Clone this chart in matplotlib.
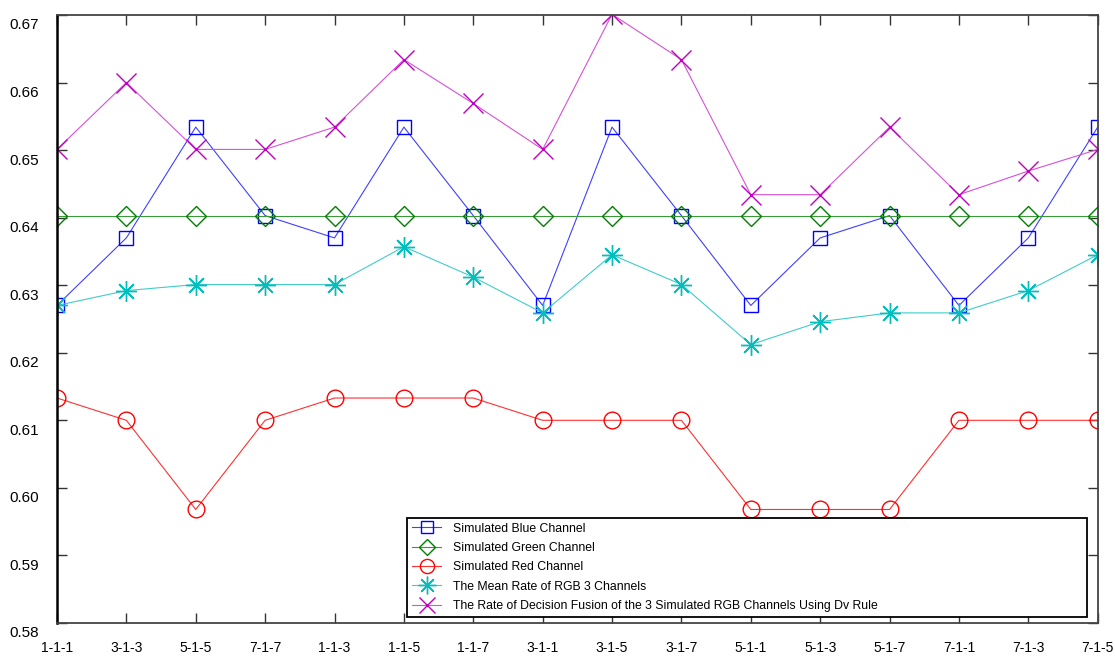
import numpy as np
import matplotlib
matplotlib.use("Agg")
import matplotlib.pyplot as plt
from matplotlib.transforms import ScaledTranslation

plt.rcParams['font.family'] = ['Liberation Sans', 'DejaVu Sans']

# window sizes (x-y-z) on the x axis
configs = ['1-1-1', '3-1-3', '5-1-5', '7-1-7', '1-1-3', '1-1-5', '1-1-7', '3-1-1',
           '3-1-5', '3-1-7', '5-1-1', '5-1-3', '5-1-7', '7-1-1', '7-1-3', '7-1-5']

blue = [0.6270, 0.6370, 0.6534, 0.6403, 0.6370, 0.6534, 0.6403, 0.6270,
        0.6534, 0.6403, 0.6270, 0.6370, 0.6403, 0.6270, 0.6370, 0.6534]
green = [0.6403] * 16
red = [0.6133, 0.6100, 0.5968, 0.6100, 0.6133, 0.6133, 0.6133, 0.6100,
       0.6100, 0.6100, 0.5968, 0.5968, 0.5968, 0.6100, 0.6100, 0.6100]
mean_rgb = [0.6270, 0.6292, 0.6301, 0.6301, 0.6301, 0.6357, 0.6312, 0.6259,
            0.6345, 0.6301, 0.6212, 0.6246, 0.6259, 0.6259, 0.6292, 0.6345]
fusion = [0.6501, 0.6600, 0.6501, 0.6501, 0.6534, 0.6634, 0.6569, 0.6501,
          0.6701, 0.6634, 0.6434, 0.6434, 0.6534, 0.6434, 0.6469, 0.6501]

labels = ['Simulated Blue Channel', 'Simulated Green Channel', 'Simulated Red Channel',
          'The Mean Rate of RGB 3 Channels',
          'The Rate of Decision Fusion of the 3 Simulated RGB Channels Using Dv Rule']

fig = plt.figure(figsize=(11.15, 6.57), dpi=100)
ax = fig.add_axes([0.0511, 0.0518, 0.9334, 0.9254])
x = np.arange(len(configs))

# thin light lines, darker marker edges
ax.plot(x, blue, color='#4040ff', mec='#0000ff', lw=0.8, marker='s', ms=10, mfc='none', mew=1.0, label=labels[0])
ax.plot(x, green, color='#3a9a3a', mec='#008000', lw=0.8, marker='D', ms=10, mfc='none', mew=1.0, label=labels[1])
ax.plot(x, red, color='#ff3030', mec='#ff0000', lw=0.8, marker='o', ms=12, mfc='none', mew=1.0, label=labels[2])
ax.plot(x, mean_rgb, color='#40cccc', mec='#00bfbf', lw=0.8, marker=(8, 2, 0), ms=15, mew=1.0, label=labels[3])
ax.plot(x, fusion, color='#d850d8', mec='#bf00bf', lw=0.8, marker='x', ms=14, mew=1.0, label=labels[4])

ax.set_xlim(0, 15)
ax.set_ylim(0.58, 0.67)
ax.set_xticks(x)
ax.set_xticklabels(configs)
ax.set_yticks(np.arange(0.58, 0.6701, 0.01))
ax.set_yticklabels(['%.2f' % v for v in np.arange(0.58, 0.6701, 0.01)])

ax.tick_params(direction='in', length=7, width=1.0, top=True, right=True,
               colors='#333333', labelcolor='black')
ax.tick_params(axis='x', pad=13, labelsize=10)
ax.tick_params(axis='y', pad=13, labelsize=11)
for lab in ax.get_yticklabels():
    lab.set_transform(lab.get_transform() + ScaledTranslation(0, -9 / 100, fig.dpi_scale_trans))

ax.spines['left'].set_linewidth(1.8)
ax.spines['left'].set_color('black')
for s in ['top', 'right', 'bottom']:
    ax.spines[s].set_linewidth(1.3)
    ax.spines[s].set_color('#444444')

leg = ax.legend(loc='lower left', bbox_to_anchor=(0.365, 0.061, 0.61, 0.151),
                bbox_transform=fig.transFigure, mode='expand', fontsize=8.8,
                fancybox=False, edgecolor='black', framealpha=1, borderaxespad=0,
                labelspacing=0.6, handlelength=2.4, handletextpad=1.0, borderpad=0.4,
                markerscale=0.85)
leg.get_frame().set_linewidth(1.3)

fig.savefig('out.png', dpi=100)
